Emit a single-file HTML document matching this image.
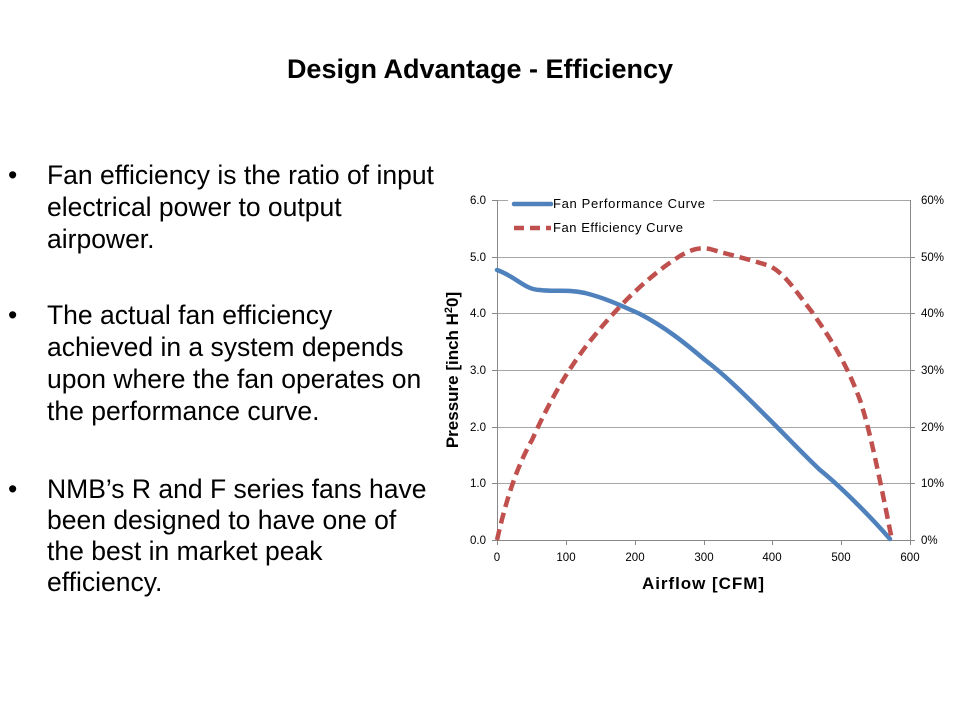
<!DOCTYPE html>
<html><head><meta charset="utf-8"><style>
body{margin:0;width:960px;height:720px;background:#fff;position:relative;overflow:hidden;font-family:"Liberation Sans",sans-serif}
.t{position:absolute;left:0;width:960px;top:54px;text-align:center;font-weight:bold;font-size:27px;color:#000}
.b{position:absolute;left:8px;font-size:26.5px;line-height:32px;color:#000}
.b span{position:absolute;left:0}
.b div{margin-left:39px;width:390px}
</style></head><body>
<div class="t">Design Advantage - Efficiency</div>
<div class="b" style="top:159px"><span>•</span><div>Fan efficiency is the ratio of input electrical power to output airpower.</div></div>
<div class="b" style="top:299px"><span>•</span><div>The actual fan efficiency achieved in a system depends upon where the fan operates on the performance curve.</div></div>
<div class="b" style="top:474px;line-height:31px"><span>•</span><div>NMB’s R and F series fans have been designed to have one of the best in market peak efficiency.</div></div>
<svg width="960" height="720" style="position:absolute;left:0;top:0" font-family="Liberation Sans, DejaVu Sans, sans-serif">
<g stroke="#a6a6a6" stroke-width="1">
<line x1="497" y1="200.5" x2="910" y2="200.5"/><line x1="497" y1="257.5" x2="910" y2="257.5"/><line x1="497" y1="313.5" x2="910" y2="313.5"/><line x1="497" y1="370.5" x2="910" y2="370.5"/><line x1="497" y1="427.5" x2="910" y2="427.5"/><line x1="497" y1="483.5" x2="910" y2="483.5"/>
<line x1="492" y1="540.5" x2="915" y2="540.5" stroke="#888"/>
<line x1="497.5" y1="200" x2="497.5" y2="545" stroke="#888"/>
<line x1="910.5" y1="200" x2="910.5" y2="545" stroke="#888"/>
<g stroke="#888"><line x1="566.5" y1="540" x2="566.5" y2="545"/><line x1="635.5" y1="540" x2="635.5" y2="545"/><line x1="704.5" y1="540" x2="704.5" y2="545"/><line x1="772.5" y1="540" x2="772.5" y2="545"/><line x1="841.5" y1="540" x2="841.5" y2="545"/>
<line x1="492" y1="200.5" x2="497" y2="200.5"/><line x1="492" y1="257.5" x2="497" y2="257.5"/><line x1="492" y1="313.5" x2="497" y2="313.5"/><line x1="492" y1="370.5" x2="497" y2="370.5"/><line x1="492" y1="427.5" x2="497" y2="427.5"/><line x1="492" y1="483.5" x2="497" y2="483.5"/>
<line x1="910" y1="257.5" x2="915" y2="257.5"/><line x1="910" y1="313.5" x2="915" y2="313.5"/><line x1="910" y1="370.5" x2="915" y2="370.5"/><line x1="910" y1="427.5" x2="915" y2="427.5"/><line x1="910" y1="483.5" x2="915" y2="483.5"/></g>
</g>
<rect x="508" y="194" width="205" height="46" fill="#fff"/>
<g font-size="11.5" fill="#000">
<g text-anchor="end"><text x="486" y="204">6.0</text><text x="486" y="261">5.0</text><text x="486" y="317">4.0</text><text x="486" y="374">3.0</text><text x="486" y="431">2.0</text><text x="486" y="487">1.0</text><text x="486" y="544">0.0</text></g>
<g><text x="921" y="204">60%</text><text x="921" y="261">50%</text><text x="921" y="317">40%</text><text x="921" y="374">30%</text><text x="921" y="431">20%</text><text x="921" y="487">10%</text><text x="921" y="544">0%</text></g>
<g text-anchor="middle"><text x="497" y="561">0</text><text x="566" y="561">100</text><text x="635" y="561">200</text><text x="704" y="561">300</text><text x="772" y="561">400</text><text x="841" y="561">500</text><text x="910" y="561">600</text></g>
<text x="553" y="208" font-size="13" textLength="152">Fan Performance Curve</text><text x="553" y="232" font-size="13" textLength="130">Fan Efficiency Curve</text>
</g>
<text x="703" y="589" font-size="17" font-weight="bold" text-anchor="middle" textLength="122">Airflow [CFM]</text>
<text transform="translate(458,370) rotate(-90)" font-size="17" font-weight="bold" text-anchor="middle">Pressure  [inch H<tspan font-size="11" dy="-6">2</tspan><tspan dy="6">0]</tspan></text>
<line x1="514" y1="204" x2="551" y2="204" stroke="#4f81bd" stroke-width="4.5" stroke-linecap="round"/>
<line x1="514" y1="228" x2="551" y2="228" stroke="#c0504d" stroke-width="4.5" stroke-dasharray="10,6"/>
<path d="M497,270 C515,276 525,290 540,290 C555,292 567,289 585,293 C605,298 620,305 640,314 C665,327 685,343 705,360 C725,375 745,395 770,420 C790,440 805,456 820,470 C840,486 870,516 890,539" fill="none" stroke="#4f81bd" stroke-width="4.5" stroke-linecap="round"/>
<path d="M497,540 C505,505 515,470 532,440 C550,400 570,365 595,335 C620,304 650,275 680,256 C692,249 700,247 710,249 C730,255 745,258 770,266 C785,274 795,290 812,312 C830,338 845,360 860,400 C870,430 880,480 892,540" fill="none" stroke="#c0504d" stroke-width="4.5" stroke-dasharray="11,6"/>
</svg>
</body></html>
